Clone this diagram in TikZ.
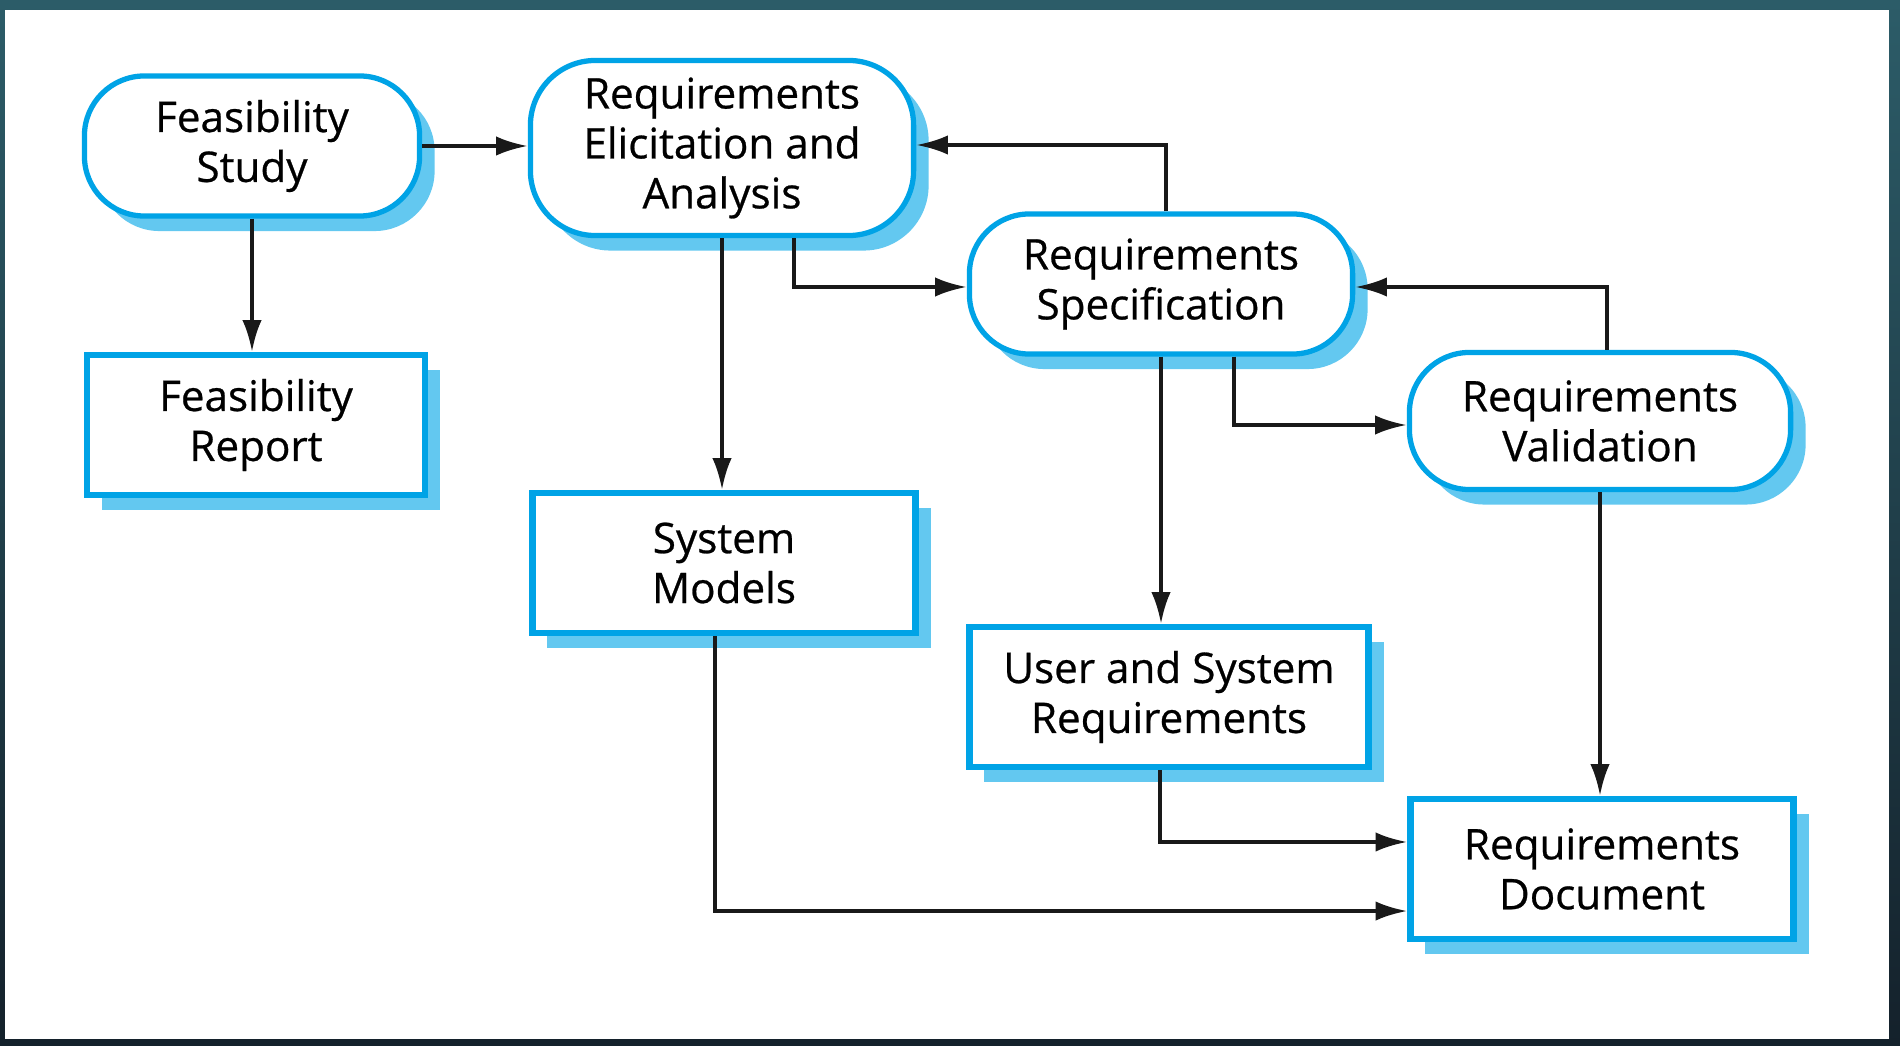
\documentclass[tikz,border=0pt]{standalone}
\usepackage{fontspec}
\setmainfont{Open Sans}
\newfontfamily\boxfont{Open Sans}[FakeBold=0.6]
\usetikzlibrary{arrows.meta,shadows}
\definecolor{boxblue}{RGB}{0,163,230}
\definecolor{shadeblue}{RGB}{99,200,240}
\definecolor{frametop}{RGB}{44,92,104}
\definecolor{framebot}{RGB}{20,33,43}
\tikzset{
  stage/.style={draw=boxblue,line width=1.5pt,fill=white,rounded corners=0.6cm,
    align=center,minimum width=3.83cm,minimum height=1.4cm,
    font=\boxfont\fontsize{12}{14.2}\selectfont,
    drop shadow={shadow xshift=0.15cm,shadow yshift=-0.15cm,fill=shadeblue,opacity=1}},
  docbox/.style={draw=boxblue,line width=1.8pt,fill=white,
    align=center,minimum width=3.83cm,minimum height=1.4cm,
    font=\boxfont\fontsize{12}{14.2}\selectfont,
    drop shadow={shadow xshift=0.15cm,shadow yshift=-0.15cm,fill=shadeblue,opacity=1}},
  flow/.style={->,line width=1.1pt,black!90}
}
\begin{document}
\begin{tikzpicture}[>={Latex[length=9pt,width=5.5pt]},x=0.01cm,y=-0.01cm]
  \shade[top color=frametop,bottom color=framebot] (0,0) rectangle (1900,1046);
  \fill[white] (5,10) rectangle (1889,1039);
  \useasboundingbox (0,0) rectangle (1900,1046);

  % processes
  \node[stage,minimum width=3.35cm] (fs) at (252,146) {Feasibility\\Study};
  \node[stage,minimum height=1.75cm,rounded corners=0.65cm] (re) at (722,148)
    {Requirements\\Elicitation and\\Analysis};
  \node[stage] (rs) at (1161,284) {Requirements\\Specification};
  \node[stage,minimum width=3.81cm,minimum height=1.37cm] (rv) at (1600,421)
    {Requirements\\Validation};

  % documents
  \node[docbox,minimum width=3.38cm] (fr) at (256,425) {Feasibility\\Report};
  \node[docbox] (sm) at (724,563) {System\\Models};
  \node[docbox,minimum width=3.99cm] (us) at (1169,697) {User and System\\Requirements};
  \node[docbox] (rd) at (1602,869) {Requirements\\Document};

  \draw[flow] (fs.east) -- (fs.east -| re.west);
  \draw[flow] (fs.south) -- (fs.south |- fr.north);
  \draw[flow] (re.south) -- (re.south |- sm.north);
  \draw[flow] ([xshift=0.72cm]re.south) |- ([yshift=-0.03cm]rs.west);
  \draw[flow] ([xshift=0.05cm]rs.north) |- ([yshift=0.03cm]re.east);
  \draw[flow] (rs.south) -- (rs.south |- us.north);
  \draw[flow] ([xshift=0.73cm]rs.south) |- ([yshift=-0.04cm]rv.west);
  \draw[flow] ([xshift=0.07cm]rv.north) |- ([yshift=-0.03cm]rs.east);
  \draw[flow] (rv.south) -- (rv.south |- rd.north);
  \draw[flow] ([xshift=-0.09cm]us.south) |- ([yshift=0.27cm]rd.west);
  \draw[flow] ([xshift=-0.09cm]sm.south) |- ([yshift=-0.42cm]rd.west);
\end{tikzpicture}
\end{document}
